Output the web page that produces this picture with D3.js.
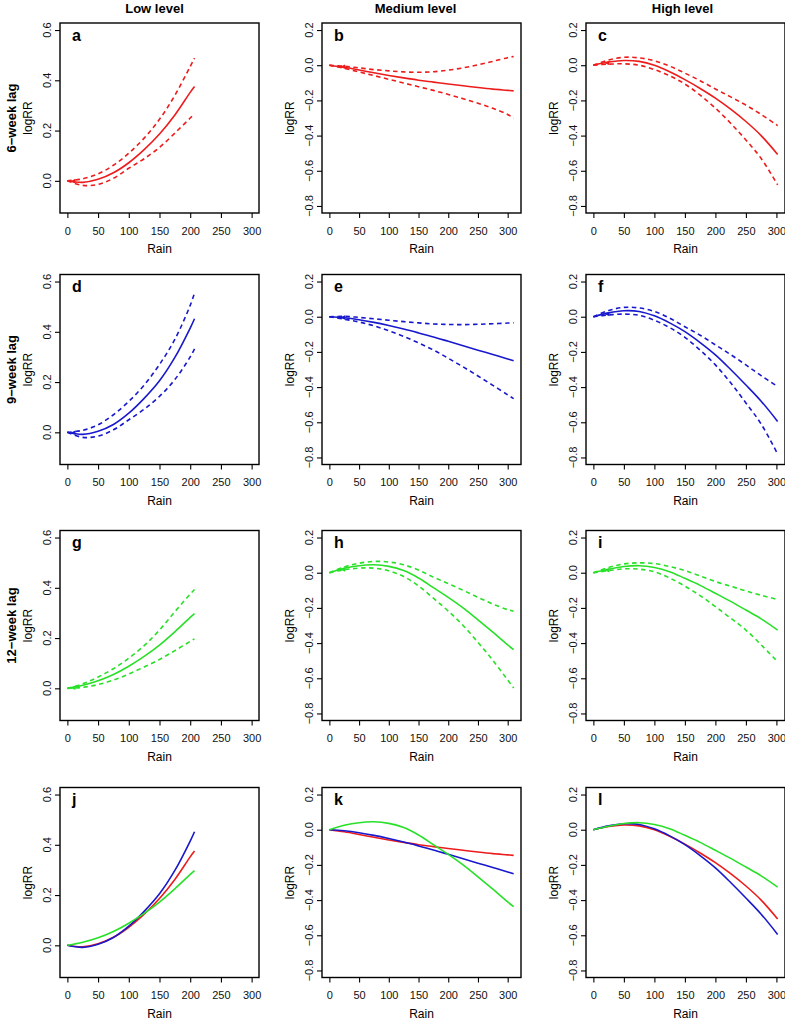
<!DOCTYPE html>
<html>
<head>
<meta charset="utf-8">
<script src="https://cdn.jsdelivr.net/npm/d3@7"></script>
<style>
body { margin: 0; background: #fff; }
text { font-family: "Liberation Sans", Arial, sans-serif; }
</style>
</head>
<body>
<script>
// labels
var colTitles = ["Low level", "Medium level", "High level"];
var rowTitles = ["6\u2212week lag", "9\u2212week lag", "12\u2212week lag"];
var letters = [["a", "b", "c"], ["d", "e", "f"], ["g", "h", "i"], ["j", "k", "l"]];

// rain values the curves were read at
var rainLow = [0, 25, 50, 75, 100, 125, 150, 175, 200, 207];
var rainMed = [0, 25, 50, 75, 100, 125, 150, 175, 200, 225, 250, 275, 300, 310];
var rainHigh = [0, 25, 50, 75, 100, 125, 150, 175, 200, 225, 250, 275, 302];

// low level (logRR, fit / upper / lower CI)
var low6Fit = [0, -0.006, 0.006, 0.032, 0.072, 0.124, 0.186, 0.262, 0.352, 0.375];
var low6Upper = [0, 0.008, 0.028, 0.062, 0.11, 0.17, 0.245, 0.34, 0.455, 0.488];
var low6Lower = [0, -0.018, -0.014, 0.01, 0.05, 0.088, 0.133, 0.19, 0.25, 0.268];
var low9Fit = [0, -0.008, 0.004, 0.031, 0.076, 0.135, 0.205, 0.298, 0.415, 0.452];
var low9Upper = [0, 0.008, 0.03, 0.07, 0.123, 0.188, 0.27, 0.37, 0.505, 0.554];
var low9Lower = [0, -0.02, -0.015, 0.01, 0.05, 0.092, 0.143, 0.21, 0.3, 0.332];
var low12Fit = [0, 0.012, 0.03, 0.055, 0.088, 0.127, 0.172, 0.225, 0.282, 0.297];
var low12Upper = [0, 0.018, 0.045, 0.078, 0.12, 0.17, 0.232, 0.305, 0.375, 0.393];
var low12Lower = [0, 0.004, 0.015, 0.033, 0.057, 0.085, 0.115, 0.15, 0.187, 0.197];

// medium level
var med6Fit = [0, -0.012, -0.027, -0.043, -0.058, -0.072, -0.085, -0.096, -0.107, -0.117, -0.127, -0.136, -0.143, -0.146];
var med6Upper = [0, -0.006, -0.015, -0.025, -0.032, -0.038, -0.04, -0.037, -0.028, -0.015, 0.002, 0.022, 0.043, 0.05];
var med6Lower = [0, -0.018, -0.038, -0.059, -0.08, -0.101, -0.122, -0.143, -0.166, -0.19, -0.216, -0.245, -0.28, -0.302];
var med9Fit = [0, -0.006, -0.017, -0.032, -0.05, -0.07, -0.092, -0.115, -0.14, -0.165, -0.19, -0.215, -0.24, -0.25];
var med9Upper = [0, 0.002, -0.004, -0.012, -0.02, -0.028, -0.035, -0.041, -0.044, -0.045, -0.043, -0.04, -0.036, -0.034];
var med9Lower = [0, -0.014, -0.03, -0.052, -0.08, -0.112, -0.149, -0.189, -0.236, -0.285, -0.337, -0.39, -0.444, -0.466];
var med12Fit = [0, 0.025, 0.04, 0.045, 0.036, 0.012, -0.03, -0.085, -0.14, -0.2, -0.268, -0.338, -0.41, -0.437];
var med12Upper = [0, 0.033, 0.054, 0.064, 0.061, 0.045, 0.015, -0.025, -0.062, -0.1, -0.14, -0.178, -0.21, -0.219];
var med12Lower = [0, 0.017, 0.026, 0.026, 0.011, -0.021, -0.075, -0.145, -0.218, -0.3, -0.396, -0.498, -0.61, -0.655];

// high level
var high6Fit = [0, 0.018, 0.027, 0.022, 0.0, -0.037, -0.082, -0.132, -0.187, -0.25, -0.32, -0.4, -0.507];
var high6Upper = [0, 0.03, 0.045, 0.042, 0.025, -0.005, -0.045, -0.088, -0.135, -0.18, -0.227, -0.28, -0.343];
var high6Lower = [0, 0.006, 0.008, 0.0, -0.025, -0.06, -0.107, -0.17, -0.244, -0.33, -0.425, -0.53, -0.68];
var high9Fit = [0, 0.022, 0.034, 0.03, 0.005, -0.035, -0.085, -0.147, -0.217, -0.3, -0.388, -0.48, -0.595];
var high9Upper = [0, 0.035, 0.053, 0.05, 0.03, -0.008, -0.057, -0.105, -0.16, -0.215, -0.274, -0.335, -0.397];
var high9Lower = [0, 0.01, 0.015, 0.008, -0.02, -0.062, -0.117, -0.19, -0.274, -0.375, -0.49, -0.61, -0.78];
var high12Fit = [0, 0.02, 0.035, 0.04, 0.03, 0.006, -0.032, -0.072, -0.117, -0.163, -0.212, -0.262, -0.326];
var high12Upper = [0, 0.03, 0.05, 0.056, 0.052, 0.035, 0.012, -0.018, -0.05, -0.077, -0.103, -0.128, -0.152];
var high12Lower = [0, 0.012, 0.022, 0.02, 0.005, -0.03, -0.076, -0.13, -0.193, -0.258, -0.326, -0.41, -0.506];

// axis settings per column
var xLims = [[0, 300], [0, 310], [0, 302]];
var yLims = [[-0.1, 0.6], [-0.8, 0.2], [-0.8, 0.2]];
var xTicks = [0, 50, 100, 150, 200, 250, 300];
var yTicks = [[0, 0.2, 0.4, 0.6], [-0.8, -0.6, -0.4, -0.2, 0, 0.2], [-0.8, -0.6, -0.4, -0.2, 0, 0.2]];
var arrowRain = [5, 18, 18];

var lagColors = ["#ec1c1c", "#1818cc", "#28e028"];

// layout
var W = 785, H = 1020;
var boxLeft = [60, 322, 586], boxTop = [23, 274.5, 530.5, 787.5];
var boxW = 199, boxH = 190;
var titleShift = [-5, -6, -3];

var rains = [rainLow, rainMed, rainHigh];
var fits = [[low6Fit, med6Fit, high6Fit], [low9Fit, med9Fit, high9Fit], [low12Fit, med12Fit, high12Fit]];
var uppers = [[low6Upper, med6Upper, high6Upper], [low9Upper, med9Upper, high9Upper], [low12Upper, med12Upper, high12Upper]];
var lowers = [[low6Lower, med6Lower, high6Lower], [low9Lower, med9Lower, high9Lower], [low12Lower, med12Lower, high12Lower]];

var svg = d3.select("body").append("svg")
  .attr("width", W)
  .attr("height", H);
svg.append("rect").attr("width", W).attr("height", H).attr("fill", "#fff");

// R style 4% padding
function pad(d) {
  var r = (d[1] - d[0]) * 0.04;
  return [d[0] - r, d[1] + r];
}

function interp(xs, ys, v) {
  for (var i = 1; i < xs.length; i++) {
    if (v <= xs[i]) {
      var t = (v - xs[i - 1]) / (xs[i] - xs[i - 1]);
      return ys[i - 1] + t * (ys[i] - ys[i - 1]);
    }
  }
  return ys[ys.length - 1];
}

// tick text like R: 0.0, 0.2, -0.4
function fmt(d) {
  return (d < 0 ? "\u2212" : "") + Math.abs(d).toFixed(1);
}

for (var r = 0; r < 4; r++) {
  for (var c = 0; c < 3; c++) {
    var g = svg.append("g").attr("transform", "translate(" + boxLeft[c] + "," + boxTop[r] + ")");
    var x = d3.scaleLinear().domain(pad(xLims[c])).range([0, boxW]);
    var y = d3.scaleLinear().domain(pad(yLims[c])).range([boxH, 0]);

    // x axis
    var xa = g.append("g")
      .attr("transform", "translate(0," + boxH + ")")
      .call(d3.axisBottom(x).tickValues(xTicks).tickSize(5).tickSizeOuter(0).tickPadding(9));
    xa.select(".domain").remove();
    xa.selectAll("line").attr("stroke", "#000").attr("stroke-width", 1.1);
    xa.selectAll("text").attr("font-size", "11px").attr("fill", "#111")
      .style("font-family", "'Liberation Sans', Arial, sans-serif");

    // y axis ticks
    var ya = g.append("g")
      .call(d3.axisLeft(y).tickValues(yTicks[c]).tickSize(5).tickSizeOuter(0).tickFormat(""));
    ya.select(".domain").remove();
    ya.selectAll("line").attr("stroke", "#000").attr("stroke-width", 1.1);

    // y tick labels, parallel to the axis
    g.selectAll(".ylab")
      .data(yTicks[c])
      .enter().append("text")
      .attr("class", "ylab")
      .attr("transform", function(d) { return "translate(-13," + y(d) + ") rotate(-90)"; })
      .attr("dy", "0.35em")
      .attr("text-anchor", "middle")
      .attr("font-size", "11px")
      .attr("fill", "#111")
      .text(fmt);

    var line = d3.line()
      .x(function(d) { return x(d[0]); })
      .y(function(d) { return y(d[1]); })
      .curve(d3.curveCatmullRom);

    var xs = rains[c];
    if (r < 3) {
      var col = lagColors[r];
      [uppers[r][c], lowers[r][c]].forEach(function(s) {
        g.append("path")
          .attr("d", line(xs.map(function(v, i) { return [v, s[i]]; })))
          .attr("fill", "none").attr("stroke", col)
          .attr("stroke-width", 1.6).attr("stroke-dasharray", "4.5,3.5");
      });
      var fit = fits[r][c];
      g.append("path")
        .attr("d", line(xs.map(function(v, i) { return [v, fit[i]]; })))
        .attr("fill", "none").attr("stroke", col).attr("stroke-width", 1.6);
      // small arrowhead near the start
      var ax = x(arrowRain[c]), ay = y(interp(xs, fit, arrowRain[c]));
      g.append("path")
        .attr("d", "M" + ax + "," + ay + "L" + (ax + 5) + "," + (ay - 2.3) + "L" + (ax + 5) + "," + (ay + 2.3) + "Z")
        .attr("fill", col);
    } else {
      for (var k = 0; k < 3; k++) {
        var f = fits[k][c];
        g.append("path")
          .attr("d", line(xs.map(function(v, i) { return [v, f[i]]; })))
          .attr("fill", "none").attr("stroke", lagColors[k]).attr("stroke-width", 1.6);
      }
    }

    // box
    g.append("rect")
      .attr("width", boxW).attr("height", boxH)
      .attr("fill", "none").attr("stroke", "#000").attr("stroke-width", 1.4);

    // panel letter
    g.append("text")
      .attr("x", 12).attr("y", 17.5)
      .attr("font-size", "16px").attr("font-weight", "bold")
      .text(letters[r][c]);

    // axis titles
    g.append("text")
      .attr("x", boxW / 2).attr("y", boxH + 40)
      .attr("text-anchor", "middle").attr("font-size", "12px")
      .text("Rain");
    g.append("text")
      .attr("transform", "translate(-32," + (boxH / 2) + ") rotate(-90)")
      .attr("dy", "0.35em")
      .attr("text-anchor", "middle").attr("font-size", "12px")
      .text("logRR");
  }
}

// column titles
colTitles.forEach(function(t, i) {
  svg.append("text")
    .attr("x", boxLeft[i] + boxW / 2 + titleShift[i]).attr("y", 13)
    .attr("text-anchor", "middle")
    .attr("font-size", "13px").attr("font-weight", "bold")
    .text(t);
});

// row titles
rowTitles.forEach(function(t, i) {
  svg.append("text")
    .attr("transform", "translate(11.5," + (boxTop[i] + boxH / 2) + ") rotate(-90)")
    .attr("dy", "0.35em")
    .attr("text-anchor", "middle")
    .attr("font-size", "13px").attr("font-weight", "bold")
    .text(t);
});
</script>
</body>
</html>
